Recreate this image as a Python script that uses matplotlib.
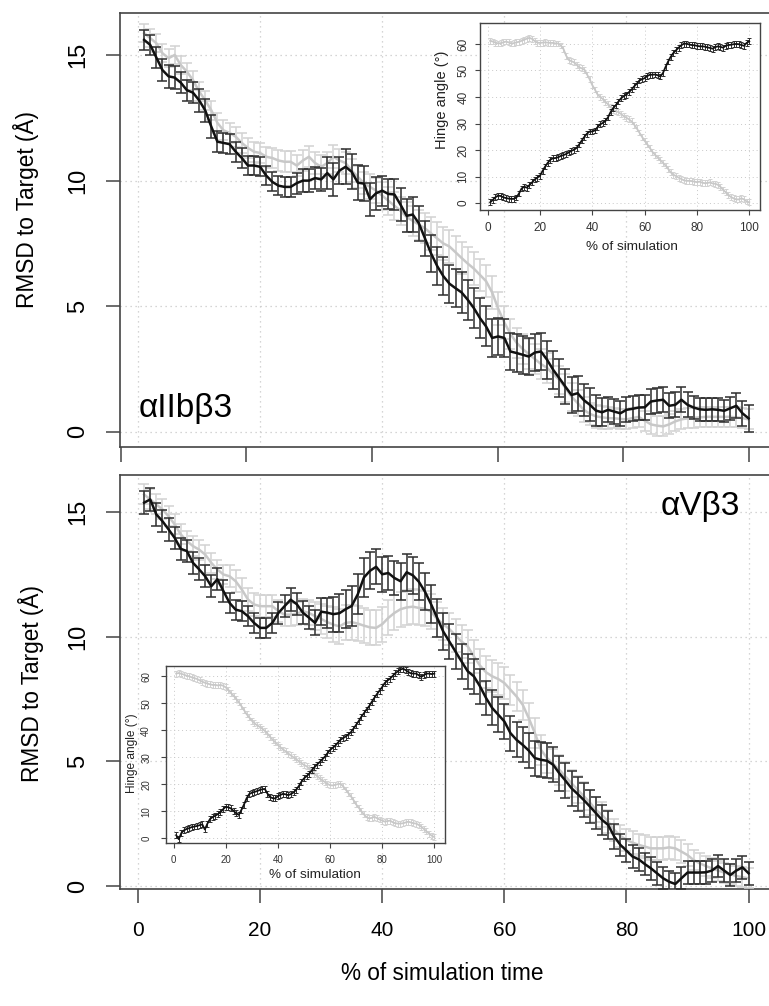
import matplotlib
matplotlib.use("Agg")
import matplotlib.pyplot as plt
import numpy as np

plt.rcParams["font.family"] = ["Liberation Sans", "DejaVu Sans"]

# x axis: % of simulation, one sample per percent
pct = list(range(1, 101))

# RMSD to target (A), alphaIIb beta3, dark and light runs
iib_dark = [15.6, 15.4, 14.9, 14.4, 14.15, 14.1, 13.9, 13.6, 13.5, 13.2,
            12.8, 12.15, 11.55, 11.5, 11.45, 11.15, 10.9, 10.6, 10.6, 10.55,
            10.2, 9.95, 9.8, 9.75, 9.75, 9.9, 10.0, 10.0, 10.1, 10.05,
            10.3, 10.05, 10.4, 10.55, 10.35, 9.92, 9.88, 9.26, 9.5, 9.6,
            9.47, 9.45, 9.04, 8.6, 8.65, 8.3, 7.7, 7.1, 6.6, 6.2,
            5.9, 5.72, 5.55, 5.26, 4.93, 4.53, 4.2, 3.74, 3.8, 3.74,
            3.2, 3.14, 3.07, 3.0, 3.16, 3.2, 2.87, 2.47, 2.14, 1.8,
            1.47, 1.54, 1.27, 1.08, 0.85, 0.78, 0.88, 0.81, 0.74, 0.88,
            0.92, 0.97, 0.98, 1.21, 1.25, 1.28, 1.04, 1.08, 1.28, 1.08,
            0.97, 0.9, 0.88, 0.9, 0.88, 0.84, 0.94, 1.04, 0.74, 0.54]
iib_dark_err = [0.40, 0.40, 0.42, 0.45, 0.45, 0.45, 0.42, 0.42, 0.42, 0.45,
                0.45, 0.45, 0.42, 0.40, 0.40, 0.40, 0.38, 0.38, 0.38, 0.38,
                0.38, 0.38, 0.38, 0.40, 0.40, 0.42, 0.45, 0.45, 0.45, 0.45,
                0.65, 0.65, 0.55, 0.70, 0.70, 0.70, 0.70, 0.65, 0.65, 0.60,
                0.60, 0.60, 0.65, 0.65, 0.70, 0.70, 0.70, 0.75, 0.75, 0.75,
                0.75, 0.75, 0.80, 0.80, 0.80, 0.80, 0.80, 0.75, 0.75, 0.75,
                0.75, 0.75, 0.75, 0.75, 0.75, 0.75, 0.75, 0.75, 0.75, 0.70,
                0.70, 0.70, 0.65, 0.65, 0.60, 0.55, 0.50, 0.50, 0.50, 0.50,
                0.50, 0.50, 0.50, 0.50, 0.50, 0.50, 0.50, 0.50, 0.50, 0.50,
                0.45, 0.45, 0.45, 0.45, 0.45, 0.45, 0.45, 0.50, 0.50, 0.55]
iib_light = [15.87, 15.67, 15.47, 15.07, 14.87, 15.0, 14.6, 14.34, 14.0, 13.55,
             13.2, 12.8, 12.3, 12.0, 11.9, 11.75, 11.5, 11.3, 11.15, 11.1,
             10.95, 10.9, 10.8, 10.75, 10.75, 10.6, 10.8, 10.95, 10.7, 10.55,
             10.7, 10.95, 10.8, 10.7, 10.4, 10.15, 9.9, 9.75, 9.6, 9.4,
             9.2, 9.0, 8.8, 8.55, 8.4, 8.25, 8.1, 7.9, 7.7, 7.5,
             7.38, 7.15, 6.92, 6.7, 6.5, 6.25, 6.0, 5.55, 4.9, 4.35,
             3.9, 3.55, 3.3, 3.1, 2.9, 2.7, 2.55, 2.3, 2.07, 1.75,
             1.4, 1.15, 0.88, 0.72, 0.62, 0.58, 0.55, 0.54, 0.52, 0.5,
             0.55, 0.6, 0.45, 0.3, 0.25, 0.22, 0.3, 0.42, 0.5, 0.54,
             0.56, 0.58, 0.6, 0.6, 0.6, 0.6, 0.6, 0.58, 0.55, 0.5]
iib_light_err = [0.35, 0.35, 0.35, 0.35, 0.35, 0.35, 0.35, 0.35, 0.38, 0.38,
                 0.38, 0.38, 0.40, 0.40, 0.40, 0.40, 0.40, 0.40, 0.40, 0.40,
                 0.40, 0.40, 0.40, 0.42, 0.42, 0.42, 0.42, 0.42, 0.42, 0.45,
                 0.45, 0.45, 0.45, 0.45, 0.45, 0.45, 0.45, 0.50, 0.50, 0.55,
                 0.55, 0.55, 0.55, 0.60, 0.60, 0.60, 0.60, 0.65, 0.65, 0.65,
                 0.65, 0.65, 0.65, 0.65, 0.65, 0.65, 0.65, 0.65, 0.65, 0.65,
                 0.60, 0.60, 0.60, 0.60, 0.60, 0.60, 0.60, 0.60, 0.55, 0.55,
                 0.55, 0.50, 0.50, 0.45, 0.45, 0.45, 0.45, 0.40, 0.40, 0.40,
                 0.40, 0.40, 0.40, 0.40, 0.40, 0.40, 0.40, 0.40, 0.40, 0.40,
                 0.40, 0.40, 0.40, 0.40, 0.40, 0.40, 0.40, 0.40, 0.40, 0.40]

# RMSD to target (A), alphaV beta3
av_dark = [15.37, 15.5, 14.9, 14.63, 14.3, 13.96, 13.52, 13.43, 12.96, 12.7,
           12.42, 12.02, 12.3, 11.82, 11.35, 11.08, 11.02, 10.82, 10.55, 10.35,
           10.35, 10.55, 10.95, 11.22, 11.48, 11.3, 10.96, 10.76, 10.55, 11.0,
           10.96, 10.9, 10.94, 11.1, 11.23, 11.7, 12.37, 12.64, 12.8, 12.5,
           12.55, 12.35, 12.22, 12.58, 12.46, 12.2, 11.8, 11.3, 10.75, 10.2,
           9.8, 9.4, 9.0, 8.61, 8.41, 8.01, 7.54, 7.14, 6.87, 6.6,
           6.13, 5.86, 5.66, 5.43, 5.13, 5.06, 5.02, 4.86, 4.52, 4.23,
           3.92, 3.69, 3.45, 3.19, 2.92, 2.65, 2.45, 1.98, 1.65, 1.42,
           1.18, 1.07, 0.88, 0.71, 0.51, 0.31, 0.17, 0.08, 0.31, 0.54,
           0.54, 0.54, 0.55, 0.62, 0.8, 0.62, 0.44, 0.62, 0.75, 0.51]
av_dark_err = [0.45, 0.45, 0.45, 0.45, 0.45, 0.45, 0.45, 0.45, 0.45, 0.45,
               0.45, 0.45, 0.45, 0.45, 0.40, 0.40, 0.40, 0.40, 0.40, 0.40,
               0.40, 0.40, 0.45, 0.45, 0.45, 0.45, 0.45, 0.45, 0.50, 0.55,
               0.60, 0.70, 0.75, 0.75, 0.80, 0.80, 0.80, 0.75, 0.70, 0.70,
               0.70, 0.70, 0.75, 0.75, 0.75, 0.75, 0.75, 0.75, 0.75, 0.75,
               0.70, 0.70, 0.70, 0.70, 0.70, 0.70, 0.70, 0.70, 0.70, 0.70,
               0.70, 0.70, 0.70, 0.70, 0.70, 0.70, 0.70, 0.70, 0.70, 0.70,
               0.70, 0.70, 0.70, 0.65, 0.65, 0.60, 0.55, 0.50, 0.45, 0.45,
               0.45, 0.45, 0.45, 0.45, 0.45, 0.45, 0.45, 0.45, 0.45, 0.45,
               0.45, 0.45, 0.45, 0.45, 0.45, 0.45, 0.45, 0.45, 0.45, 0.45]
av_light = [15.7, 15.5, 15.3, 15.1, 14.83, 14.5, 14.1, 13.83, 13.63, 13.49,
            13.29, 12.96, 12.69, 12.49, 12.42, 12.22, 11.89, 11.49, 11.29, 11.22,
            11.22, 11.22, 11.02, 10.88, 10.88, 10.92, 11.02, 10.95, 10.82, 10.71,
            10.58, 10.48, 10.41, 10.55, 10.58, 10.52, 10.44, 10.37, 10.35, 10.5,
            10.75, 10.95, 11.1, 11.17, 11.2, 11.15, 11.12, 11.0, 10.7, 10.5,
            10.3, 10.05, 9.8, 9.61, 9.21, 8.84, 8.57, 8.41, 8.3, 8.14,
            7.87, 7.6, 7.27, 6.73, 6.13, 5.46, 5.13, 4.9, 4.66, 4.39,
            4.12, 3.86, 3.61, 3.35, 3.05, 2.85, 2.58, 2.25, 2.01, 1.85,
            1.74, 1.65, 1.58, 1.51, 1.51, 1.51, 1.55, 1.51, 1.38, 1.24,
            1.04, 0.91, 0.8, 0.71, 0.62, 0.54, 0.47, 0.4, 0.35, 0.31]
av_light_err = [0.40, 0.40, 0.40, 0.40, 0.40, 0.40, 0.40, 0.40, 0.40, 0.40,
                0.40, 0.40, 0.40, 0.40, 0.45, 0.45, 0.45, 0.45, 0.45, 0.45,
                0.45, 0.45, 0.45, 0.45, 0.45, 0.45, 0.50, 0.50, 0.55, 0.60,
                0.65, 0.70, 0.70, 0.70, 0.70, 0.70, 0.70, 0.70, 0.70, 0.70,
                0.70, 0.70, 0.70, 0.70, 0.70, 0.70, 0.70, 0.70, 0.70, 0.65,
                0.65, 0.65, 0.65, 0.65, 0.65, 0.65, 0.65, 0.65, 0.65, 0.65,
                0.60, 0.60, 0.60, 0.60, 0.60, 0.60, 0.60, 0.60, 0.60, 0.60,
                0.55, 0.55, 0.55, 0.50, 0.50, 0.50, 0.45, 0.45, 0.45, 0.45,
                0.45, 0.45, 0.45, 0.45, 0.45, 0.45, 0.45, 0.45, 0.45, 0.45,
                0.40, 0.40, 0.40, 0.40, 0.40, 0.40, 0.40, 0.40, 0.40, 0.40]

# hinge angle (degrees), insets
iib_hinge_dark = [0.3, 1.2, 2.2, 2.8, 2.7, 2.2, 1.9, 1.7, 1.6, 1.6,
                  2.1, 3.6, 5.5, 6.2, 5.8, 6.8, 7.8, 8.9, 9.6, 10.3,
                  12.1, 13.8, 15.2, 16.4, 16.9, 17.0, 17.3, 17.8, 18.1, 18.5,
                  19.1, 19.7, 20.1, 20.8, 22.1, 23.6, 25.0, 26.2, 27.0, 27.0,
                  27.4, 28.6, 29.7, 30.2, 30.9, 32.3, 34.3, 35.8, 36.9, 38.3,
                  39.5, 40.3, 40.9, 41.8, 42.8, 44.0, 45.0, 46.2, 46.7, 47.1,
                  47.9, 48.4, 48.4, 48.5, 48.2, 47.7, 49.0, 51.3, 53.4, 55.2,
                  56.6, 57.6, 58.6, 59.5, 60.1, 60.1, 59.8, 59.6, 59.5, 59.3,
                  59.1, 59.1, 59.0, 58.7, 58.5, 58.2, 58.8, 59.1, 58.9, 58.6,
                  59.3, 59.6, 59.7, 59.9, 60.0, 59.9, 59.6, 59.3, 60.4, 61.0]
iib_hinge_light = [61.2, 60.9, 60.5, 60.2, 60.3, 60.6, 60.9, 60.6, 60.2, 60.3,
                   60.6, 60.8, 61.2, 61.6, 62.0, 62.3, 61.9, 61.1, 60.5, 60.4,
                   60.5, 60.6, 60.5, 60.4, 60.4, 60.2, 60.2, 59.4, 58.1, 55.6,
                   54.0, 53.5, 53.1, 52.2, 51.2, 50.8, 50.3, 48.5, 46.7, 44.5,
                   42.8, 41.0, 40.0, 39.3, 38.2, 37.3, 36.2, 35.2, 34.7, 34.3,
                   33.6, 32.8, 32.2, 31.6, 30.8, 29.6, 28.2, 26.6, 25.0, 23.5,
                   22.2, 20.8, 19.3, 18.2, 17.2, 16.2, 15.2, 14.2, 12.9, 11.6,
                   10.7, 10.2, 9.6, 9.1, 8.6, 8.4, 8.4, 8.3, 8.1, 7.9,
                   8.1, 7.7, 7.5, 7.6, 7.8, 7.4, 7.3, 6.9, 6.1, 5.0,
                   4.1, 3.1, 2.3, 1.8, 1.4, 1.4, 1.8, 1.4, 0.6, 0.3]
av_hinge_dark = [1.2, -0.3, 2.0, 3.0, 3.5, 3.8, 4.2, 4.4, 4.6, 4.9,
                 5.2, 3.3, 5.5, 7.2, 7.9, 8.4, 9.0, 9.7, 10.8, 11.7,
                 11.5, 11.1, 10.2, 9.3, 8.7, 10.5, 12.5, 14.8, 16.4, 16.9,
                 17.2, 17.5, 17.9, 18.2, 18.3, 16.6, 15.3, 14.9, 14.8, 15.6,
                 16.1, 16.5, 16.3, 16.0, 16.4, 17.0, 18.0, 19.3, 20.9, 22.2,
                 23.0, 23.9, 25.2, 26.3, 27.3, 28.2, 29.2, 30.2, 31.5, 32.7,
                 33.5, 34.3, 35.4, 36.5, 37.1, 37.7, 38.4, 39.3, 40.6, 42.0,
                 43.4, 45.0, 46.3, 47.7, 48.9, 50.5, 52.0, 53.4, 54.7, 56.0,
                 57.5, 58.4, 59.1, 60.1, 61.1, 61.8, 62.5, 62.8, 62.3, 61.6,
                 61.1, 61.0, 61.0, 60.4, 59.8, 60.4, 61.0, 61.0, 60.8, 61.0]
av_hinge_light = [61.0, 61.2, 60.9, 60.6, 60.2, 60.0, 59.6, 59.3, 59.0, 58.5,
                  58.0, 57.6, 57.3, 57.0, 56.8, 56.8, 56.6, 56.8, 56.5, 55.9,
                  55.0, 53.8, 52.8, 51.7, 50.4, 49.0, 47.5, 46.0, 44.8, 43.6,
                  42.6, 41.9, 41.3, 40.6, 39.8, 38.8, 37.6, 36.5, 35.6, 34.6,
                  33.7, 32.9, 32.2, 31.4, 30.7, 30.0, 29.3, 28.6, 27.9, 27.2,
                  26.7, 25.9, 25.0, 24.0, 23.1, 22.3, 21.5, 20.9, 20.2, 19.7,
                  19.6, 19.8, 20.1, 20.2, 19.3, 18.1, 16.8, 15.6, 14.2, 12.6,
                  11.4, 10.1, 8.9, 7.9, 7.4, 7.6, 8.0, 7.5, 7.0, 6.6,
                  6.2, 6.4, 6.6, 6.0, 5.6, 5.5, 5.5, 5.6, 5.9, 6.2,
                  5.9, 5.6, 5.5, 5.0, 4.3, 3.5, 2.6, 1.8, 1.0, 0.5]
hinge_err = 1.1  # roughly constant spread of the hinge angle

DARK, DARK_E = "#111111", "#2e2e2e"
LIGHT, LIGHT_E = "#c8c8c8", "#d2d2d2"
SPINE = "#444444"
GRID = dict(ls=(0, (1, 3)), color="#c8c8c8", zorder=0)
W, H = 769, 1006


def frac(x0, y0, x1, y1):
    """pixel box (top-left / bottom-right) -> figure fraction rect"""
    return [x0 / W, 1 - y1 / H, (x1 - x0) / W, (y1 - y0) / H]


def pairs(ax, light, light_err, dark, dark_err, lw, elw, cap):
    ax.errorbar(pct, light, yerr=light_err, color=LIGHT, ecolor=LIGHT_E,
                lw=lw, elinewidth=elw, capsize=cap, capthick=elw, zorder=3)
    ax.errorbar(pct, dark, yerr=dark_err, color=DARK, ecolor=DARK_E,
                lw=lw, elinewidth=elw, capsize=cap, capthick=elw, zorder=4)


def style_box(ax, lw):
    for s in ax.spines.values():
        s.set_color(SPINE)
        s.set_linewidth(lw)


fig = plt.figure(figsize=(W / 100, H / 100), dpi=100)

# main panels
ax_top = fig.add_axes(frac(120, 13, 773, 447))
ax_bot = fig.add_axes(frac(120, 475, 773, 889))

pairs(ax_top, iib_light, iib_light_err, iib_dark, iib_dark_err, 1.8, 1.1, 3.5)
pairs(ax_bot, av_light, av_light_err, av_dark, av_dark_err, 1.8, 1.1, 3.5)

ax_top.set_ylim(-0.6, 16.67)
ax_bot.set_ylim(-0.12, 16.48)
for ax in (ax_top, ax_bot):
    ax.set_xlim(-2.95, 104.0)
    ax.set_yticks([0, 5, 10, 15])
    ax.grid(True, axis="y", which="major", lw=0.9, **GRID)
    style_box(ax, 1.2)
    ax.tick_params(axis="y", which="major", length=10, width=1.1, color=SPINE,
                   labelsize=17, pad=12, labelrotation=90)
    for t in ax.get_yticklabels():
        t.set_va("center")

# top panel: unlabeled ticks offset from the vertical grid
ax_top.set_xticks(np.linspace(-2.8, 100, 6))
ax_top.set_xticks(np.arange(0, 101, 20), minor=True)
ax_top.tick_params(axis="x", which="minor", length=0)
ax_top.grid(True, axis="x", which="minor", lw=0.9, **GRID)
ax_top.tick_params(axis="x", which="major", length=11, width=1.1, color=SPINE,
                   labelbottom=False)

ax_bot.set_xticks(np.arange(0, 101, 20))
ax_bot.grid(True, axis="x", which="major", lw=0.9, **GRID)
ax_bot.tick_params(axis="x", which="major", length=10, width=1.1, color=SPINE,
                   labelsize=15, pad=13)

ax_top.text(0.029, 0.069, "\u03b1IIb\u03b23", transform=ax_top.transAxes,
            fontsize=24, ha="left", va="baseline", zorder=6)
ax_bot.text(0.95, 0.903, "\u03b1V\u03b23", transform=ax_bot.transAxes,
            fontsize=24, ha="right", va="baseline", zorder=6)

fig.text(26 / W, 1 - 210 / H, "RMSD to Target (\u00c5)", rotation=90,
         ha="center", va="center", fontsize=16.3)
fig.text(31 / W, 1 - 683 / H, "RMSD to Target (\u00c5)", rotation=90,
         ha="center", va="center", fontsize=16.3)
fig.text(442 / W, 1 - 973 / H, "% of simulation time",
         ha="center", va="center", fontsize=16.3)

# insets
in_top = fig.add_axes(frac(480, 23, 760, 210))
in_bot = fig.add_axes(frac(166, 666, 445, 843))
pairs(in_top, iib_hinge_light, hinge_err, iib_hinge_dark, hinge_err, 1.3, 0.7, 1.5)
pairs(in_bot, av_hinge_light, hinge_err, av_hinge_dark, hinge_err, 1.3, 0.7, 1.5)
in_top.set_ylim(-2.6, 67.9)
in_bot.set_ylim(-1.7, 63.8)
for ax, lab_size, ypad in ((in_top, 8.5, 4.0), (in_bot, 7.0, 7.0)):
    ax.set_facecolor("white")
    ax.set_zorder(5)
    ax.set_xlim(-2.9, 104.1)
    ax.set_xticks(np.arange(0, 101, 20))
    ax.set_yticks(np.arange(0, 61, 10))
    ax.grid(True, which="major", lw=0.7, **GRID)
    style_box(ax, 1.0)
    ax.tick_params(axis="x", which="major", length=3.6, width=0.8, color=SPINE,
                   labelsize=lab_size, pad=5.0, labelcolor="#333333")
    ax.tick_params(axis="y", which="major", length=3.6, width=0.8, color=SPINE,
                   labelsize=lab_size, pad=ypad, labelrotation=90, labelcolor="#333333")
    for t in ax.get_yticklabels():
        t.set_va("center")

fig.text(632 / W, 1 - 247 / H, "% of simulation", ha="center", va="center",
         fontsize=9.7, color="#222222")
fig.text(442 / W, 1 - 100 / H, "Hinge angle (\u00b0)", rotation=90, ha="center",
         va="center", fontsize=10.5, color="#222222")
fig.text(315 / W, 1 - 875 / H, "% of simulation", ha="center", va="center",
         fontsize=9.7, color="#222222")
fig.text(132 / W, 1 - 753 / H, "Hinge angle (\u00b0)", rotation=90, ha="center",
         va="center", fontsize=8.6, color="#222222")

fig.savefig("out.png", dpi=100)
